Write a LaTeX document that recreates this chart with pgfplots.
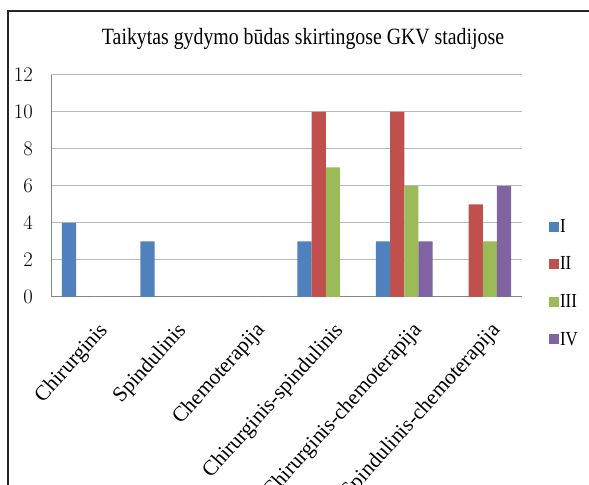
\documentclass[border=0pt]{standalone}
\usepackage{pgfplots}
\pgfplotsset{compat=1.18}
\usepackage{fontspec}
\setmainfont{Liberation Serif}[FakeStretch=0.85]
\newfontfamily\labfont{Liberation Serif}
\definecolor{cI}{RGB}{79,129,189}
\definecolor{cII}{RGB}{192,80,77}
\definecolor{cIII}{RGB}{155,187,89}
\definecolor{cIV}{RGB}{128,100,162}
\definecolor{gridc}{RGB}{185,185,185}
\definecolor{axisc}{RGB}{134,134,134}
\begin{document}
\begin{tikzpicture}[x=1bp,y=1bp]
\path[use as bounding box] (0,0) rectangle (589,485);
\draw[line width=1.3bp, black!85] (8,-2) -- (8,474) -- (591,474);
\node[font=\fontsize{23.4}{26}\selectfont, anchor=base] at (303,440) {Taikytas gydymo būdas skirtingose GKV stadijose};
\begin{axis}[
  at={(51bp,188bp)}, anchor=south west,
  scale only axis, width=471bp, height=222bp,
  ybar=0pt, bar width=0.181,
  xmin=-0.5, xmax=5.5, ymin=0, ymax=12,
  xtick={0,1,2,3,4,5},
  xticklabels={Chirurginis,Spindulinis,Chemoterapija,Chirurginis-spindulinis,Chirurginis-chemoterapija,Spindulinis-chemoterapija},
  ytick={0,2,4,6,8,10,12},
  major tick length=0pt,
  axis x line*=bottom, axis y line*=left,
  axis line style={axisc, line width=1bp, -},
  ymajorgrids, grid style={gridc, line width=1bp},
  yticklabel style={font=\fontsize{21.2}{24}\selectfont, anchor=east, inner sep=0pt, xshift=-18bp},
  xticklabel style={font=\labfont\fontsize{21.5}{24}\selectfont, rotate=48, anchor=north east, inner sep=0pt, xshift=-13bp, yshift=-21bp},
  legend style={at={(1.057,0.355)}, anchor=north west, draw=none, fill=none,
    font=\fontsize{20}{24}\selectfont, row sep=21bp, inner sep=0pt,
    nodes={inner sep=1bp}},
  legend cell align=left,
  legend image code/.code={\fill[#1] (0bp,-5bp) rectangle (10bp,5bp);},
]
\addplot[fill=cI, draw=none] coordinates {(0,4) (1,3) (2,0) (3,3) (4,3) (5,0)};
\addplot[fill=cII, draw=none] coordinates {(0,0) (1,0) (2,0) (3,10) (4,10) (5,5)};
\addplot[fill=cIII, draw=none] coordinates {(0,0) (1,0) (2,0) (3,7) (4,6) (5,3)};
\addplot[fill=cIV, draw=none] coordinates {(0,0) (1,0) (2,0) (3,0) (4,3) (5,6)};
\legend{I,II,III,IV}
\end{axis}
\end{tikzpicture}
\end{document}
